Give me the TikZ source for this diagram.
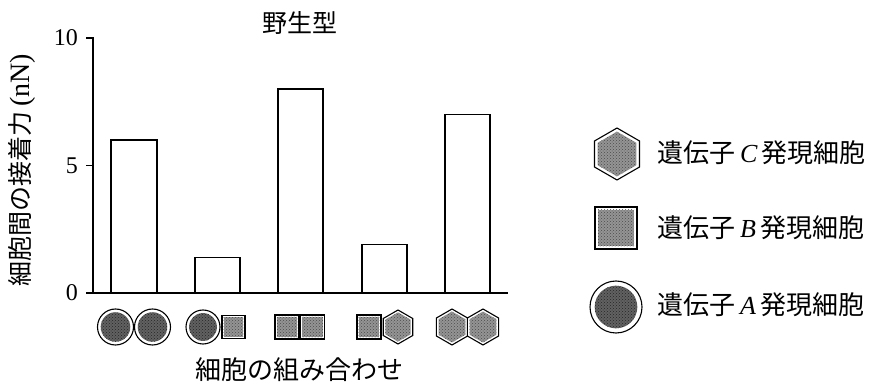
\documentclass[tikz,border=0pt]{standalone}
\usepackage{fontspec}
\setmainfont{Liberation Serif}
\newfontfamily\jp{Noto Sans CJK JP}
\usetikzlibrary{patterns}
\tikzset{
  axisline/.style={draw=black, line width=1.4pt},
  barbox/.style={draw=black, line width=1.4pt, fill=white},
  cellline/.style={draw=black, line width=1.1pt, fill=white},
  texA/.style={fill=black!62},
  texB/.style={fill=black!42},
  lab/.style={inner sep=0pt, font=\fontsize{24}{28}\selectfont},
  jplab/.style={inner sep=0pt, font=\fontsize{25}{30}\selectfont\jp},
  leglab/.style={inner sep=0pt, font=\fontsize{26}{30}\selectfont\jp},
  cellA/.pic={
    \draw[cellline] (0,0) circle (#1);
    \fill[texA] (0,0) circle ({0.82*#1});
    \fill[pattern=crosshatch dots, pattern color=black!85] (0,0) circle ({0.82*#1});
  },
  cellB/.pic={
    \draw[cellline] ({-#1},{-#1}) rectangle (#1,#1);
    \fill[texB] ({-0.86*#1},{-0.86*#1}) rectangle ({0.86*#1},{0.86*#1});
    \fill[pattern=crosshatch dots, pattern color=black!70] ({-0.86*#1},{-0.86*#1}) rectangle ({0.86*#1},{0.86*#1});
  },
  cellC/.pic={
    \draw[cellline] (90:#1) -- (150:#1) -- (210:#1) -- (270:#1) -- (330:#1) -- (30:#1) -- cycle;
    \fill[texB] (90:{0.86*#1}) -- (150:{0.86*#1}) -- (210:{0.86*#1}) -- (270:{0.86*#1}) -- (330:{0.86*#1}) -- (30:{0.86*#1}) -- cycle;
    \fill[pattern=crosshatch dots, pattern color=black!70] (90:{0.86*#1}) -- (150:{0.86*#1}) -- (210:{0.86*#1}) -- (270:{0.86*#1}) -- (330:{0.86*#1}) -- (30:{0.86*#1}) -- cycle;
  },
}
\begin{document}
\begin{tikzpicture}[x=1pt,y=1pt]
\useasboundingbox (0,0) rectangle (886,388);
% axis frame
\coordinate (O) at (93,95);
\coordinate (Ytop) at (93,350);
\coordinate (Xend) at (508,95);
\coordinate (T0) at (86,95);
\coordinate (T5) at (86,222.5);
\coordinate (T5a) at (93,222.5);
\coordinate (T10) at (86,350);
% bars
\draw[barbox] (111,95) rectangle (157,248);
\draw[barbox] (195,95) rectangle (240,130.7);
\draw[barbox] (278,95) rectangle (323,299);
\draw[barbox] (362,95) rectangle (407,143.5);
\draw[barbox] (445,95) rectangle (490,273.5);
\draw[axisline] (T10) -- (Ytop) -- (O);
\draw[axisline] (T0) -- (Xend);
\draw[axisline] (T5) -- (T5a);
% tick labels
\node[lab, anchor=east] (l10) at (78,350) {10};
\node[lab, anchor=east] (l5) at (78,222.5) {5};
\node[lab, anchor=east] (l0) at (78,95) {0};
% titles
\node[jplab] (title) at (300,365) {野生型};
\node[jplab, rotate=90] (ylab) at (22,218) {細胞間の接着力\,{\fontsize{28}{30}\selectfont\rmfamily (nN)}};
\node[jplab, font=\fontsize{26}{30}\selectfont\jp] (xlab) at (299,18) {細胞の組み合わせ};
% cell pairs under bars
\pic at (115.5,61) {cellA=18};
\pic at (152.5,61) {cellA=18};
\pic at (203,61) {cellA=17};
\pic at (233.5,61) {cellB=11.5};
\pic at (287,61) {cellB=12};
\pic at (312.5,61) {cellB=12};
\pic at (369,61) {cellB=12};
\pic at (398,61) {cellC=17};
\pic at (452,61) {cellC=18};
\pic at (483,61) {cellC=18};
% legend
\pic at (617,234) {cellC=26};
\pic at (616,160) {cellB=21};
\pic at (616,81) {cellA=26};
\node[leglab, anchor=west] (legC) at (657,235) {遺伝子\hspace{5pt}{\rmfamily\itshape C}\hspace{4pt}発現細胞};
\node[leglab, anchor=west] (legB) at (657,160) {遺伝子\hspace{5pt}{\rmfamily\itshape B}\hspace{4pt}発現細胞};
\node[leglab, anchor=west] (legA) at (657,83) {遺伝子\hspace{5pt}{\rmfamily\itshape A}\hspace{4pt}発現細胞};
\end{tikzpicture}
\end{document}
